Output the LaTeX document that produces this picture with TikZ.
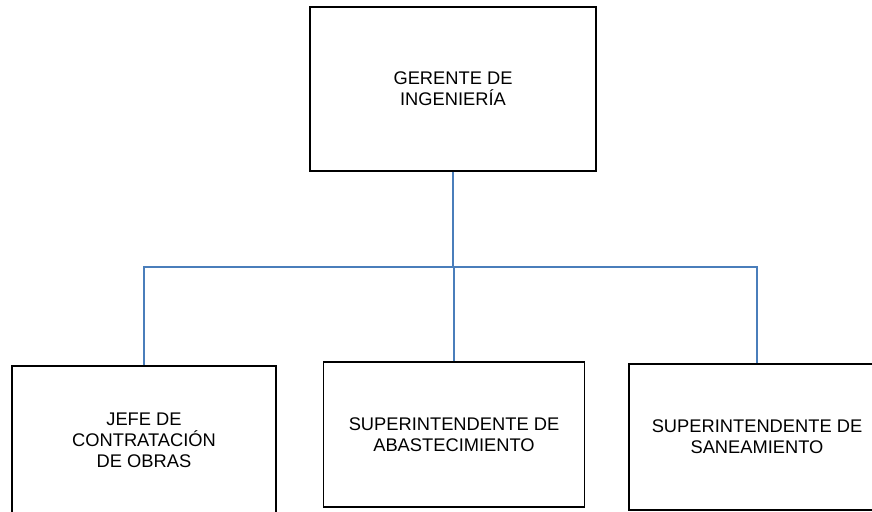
\documentclass[tikz,border=0pt]{standalone}
\usepackage{fontspec}
\setmainfont{Liberation Sans}
\definecolor{linkblue}{RGB}{74,126,187}
\begin{document}
\begin{tikzpicture}[x=1pt,y=-1pt,
  box/.style={draw=black,line width=1.6pt,fill=white,align=center,inner sep=0pt,
    font=\fontsize{18.3}{21}\selectfont},
  link/.style={draw=linkblue,line width=1.5pt}]
\useasboundingbox (0,0) rectangle (872,511);
\fill[white] (0,0) rectangle (872,511);
\node[box,minimum width=286pt,minimum height=164pt] (top) at (453,89) {GERENTE DE\\INGENIERÍA};
\node[box,minimum width=264pt,minimum height=148pt] (left) at (144,440) {JEFE DE\\CONTRATACIÓN\\DE OBRAS};
\node[box,minimum width=261pt,minimum height=145pt] (mid) at (454,434.5) {SUPERINTENDENTE DE\\ABASTECIMIENTO};
\node[box,minimum width=256pt,minimum height=146pt] (right) at (757,437) {SUPERINTENDENTE DE\\SANEAMIENTO};
\coordinate (bus) at (453,267);
\draw[link] (top.south) -- (bus);
\draw[link] (left.north) |- (bus);
\draw[link] (right.north) |- (bus);
\draw[link] (mid.north) -- (mid.north |- bus);
\end{tikzpicture}
\end{document}
